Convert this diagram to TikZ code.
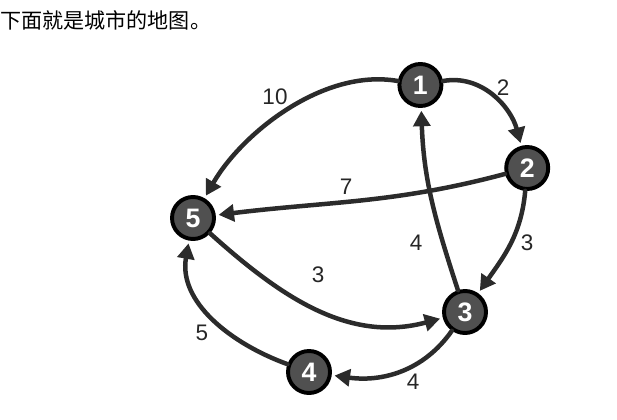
\documentclass[tikz,border=0pt]{standalone}
\usepackage{fontspec}
\setmainfont{Liberation Sans}
\newfontfamily\cjk{Noto Sans CJK SC}
\usepackage{tikz}
\usetikzlibrary{positioning, calc, arrows.meta}

\definecolor{roadgray}{HTML}{2B2B2B}
\definecolor{cityfill}{HTML}{505050}

\begin{document}
\begin{tikzpicture}[
    city/.style={circle, draw=black, line width=2.8pt, fill=cityfill,
      minimum size=1.05cm, inner sep=0pt, text=white,
      font=\fontsize{19}{20}\selectfont\bfseries},
    road/.style={roadgray, line width=3.2pt, line cap=round,
      -{Triangle[length=11pt,width=12pt]}, shorten >=2pt},
    wt/.style={font=\fontsize{16}{18}\selectfont, text=black!85, inner sep=0pt}
  ]
    \useasboundingbox (0,0) rectangle (15.425,10.475);
    % titlu
    \node[anchor=west, inner sep=0pt, font=\fontsize{15}{18}\selectfont\cjk] (title) at (0,9.975) {下面就是城市的地图。};
    % orase
    \foreach \n/\x/\y in {1/10.51/8.35, 2/13.18/6.275, 3/11.625/2.675, 4/7.725/1.175, 5/4.825/5.025} {
      \node[city] (c\n) at (\x,\y) {\n};
    }
    % drumuri
    \draw[road] (c1) to[out=170, in=60, looseness=0.85] (c5);
    \draw[road] (c1) to[out=10, in=105] (c2);
    \draw[road] (c2) to[out=195, in=7] (c5);
    \draw[road] (c2) to[out=-95, in=55] (c3);
    \draw[road] (c3) to[out=108, in=-88] (c1);
    \draw[road] (c5) to[out=-42, in=195] (c3);
    \draw[road] (c3) to[out=-125, in=-8] (c4);
    \draw[road] (c4) to[out=160, in=-100] (c5);
    % costuri
    \foreach \nm/\x/\y/\t in {w15/6.875/8.05/10, w12/12.575/8.275/2, w25/8.65/5.8/7,
        w23/13.175/4.4/3, w31/10.4/4.4/4, w53/7.95/3.6/3, w45/5.05/2.15/5, w34/10.325/0.925/4} {
      \node[wt] (\nm) at (\x,\y) {\t};
    }
\end{tikzpicture}
\end{document}
